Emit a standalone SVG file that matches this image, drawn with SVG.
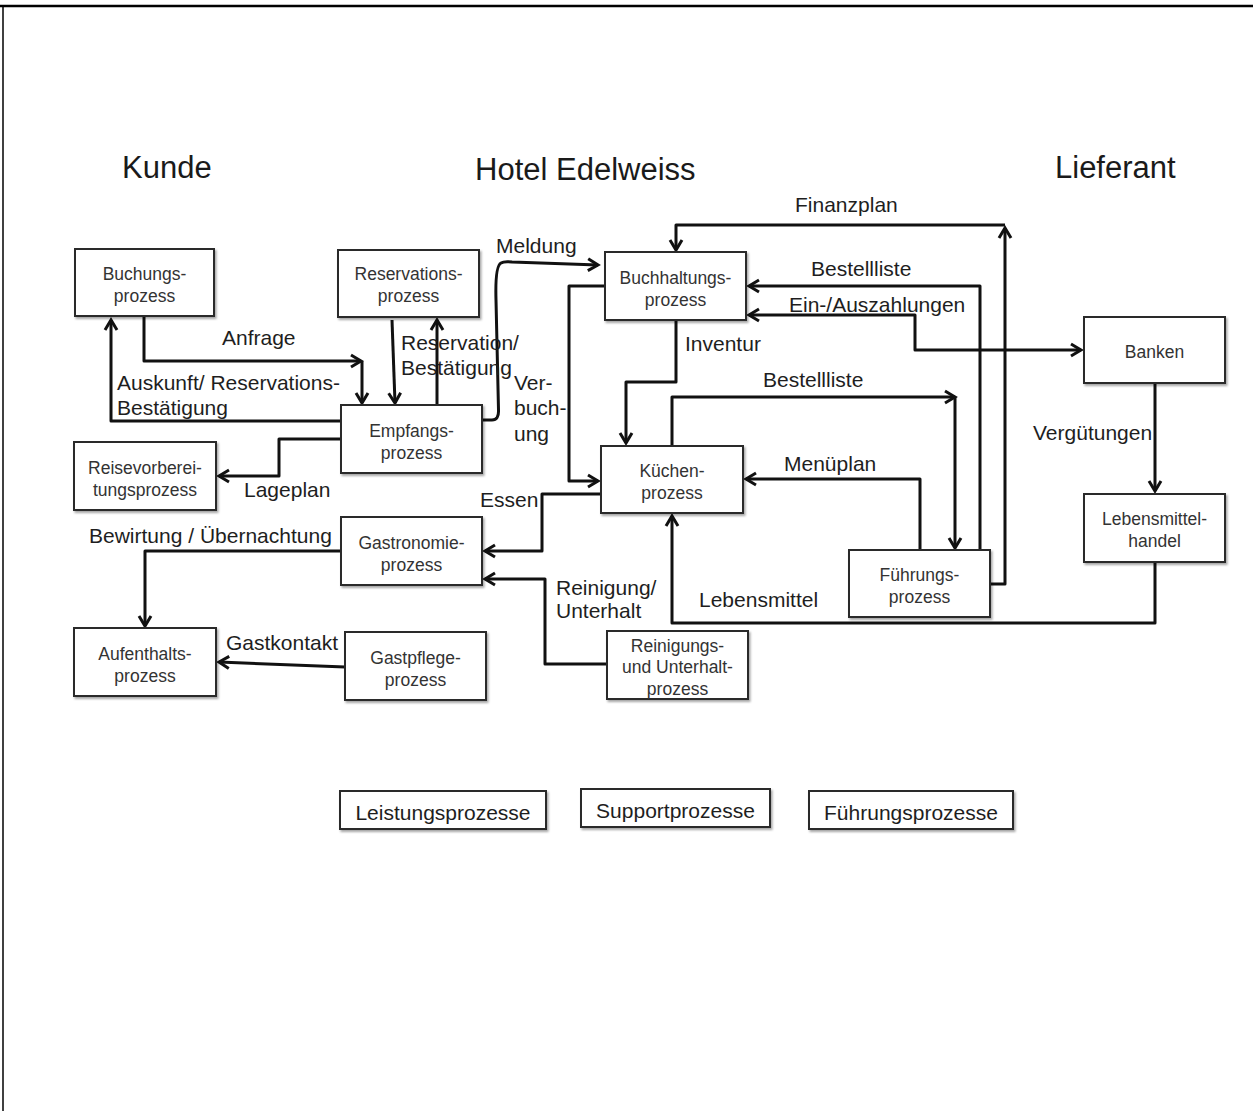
<svg xmlns="http://www.w3.org/2000/svg" width="1253" height="1111" viewBox="0 0 1253 1111">
<style>
  .box { fill: #ffffff; stroke: #2a2a2a; stroke-width: 2; filter: url(#sh); }
  .nt { font-family: "Liberation Sans", Arial, sans-serif; font-size: 17.5px; fill: #333333; text-anchor: middle; }
  .lbl { font-family: "Liberation Sans", Arial, sans-serif; font-size: 21px; fill: #1e1e1e; }
  .lg { font-family: "Liberation Sans", Arial, sans-serif; font-size: 21px; fill: #1e1e1e; text-anchor: middle; }
  .title { font-family: "Liberation Sans", Arial, sans-serif; font-size: 31px; fill: #1a1a1a; }
  .c { fill: none; stroke: #111111; stroke-width: 3; stroke-linejoin: round; marker-end: url(#ah); }
</style>
<defs>
  <filter id="sh" x="-10%" y="-10%" width="120%" height="130%">
    <feDropShadow dx="1.5" dy="2" stdDeviation="1.2" flood-color="#000000" flood-opacity="0.35"/>
  </filter>
  <marker id="ah" markerUnits="userSpaceOnUse" viewBox="-3 -9 16 18" refX="10" refY="0" markerWidth="16" markerHeight="18" orient="auto-start-reverse">
    <path d="M0,-6 L10,0 L0,6" fill="none" stroke="#111111" stroke-width="3" stroke-linejoin="miter"/>
  </marker>
</defs>
<rect x="0" y="0" width="1253" height="1111" fill="#ffffff"/>
<g id="frame">
  <line x1="0" y1="6" x2="1253" y2="6" stroke="#000" stroke-width="2.5"/>
  <line x1="3" y1="5" x2="3" y2="1111" stroke="#000" stroke-width="1.5"/>
</g>
<g id="titles">
  <text class="title" x="122" y="178">Kunde</text>
  <text class="title" x="475" y="180">Hotel Edelweiss</text>
  <text class="title" x="1055" y="178">Lieferant</text>
</g>
<g id="connectors">
  <path class="c" d="M144,317 V361 H361"/>
  <path class="c" d="M362,361 V403"/>
  <path class="c" d="M342,421 H111 V320"/>
  <path class="c" d="M392,320 L395,403"/>
  <path class="c" d="M437,405 V320"/>
  <path class="c" d="M483,420 H492 Q499,420 498.5,410 L496,300 Q495,266 501,263 Q504,261 512,262 L598,265"/>
  <path class="c" d="M341,439 H279 V476 H219"/>
  <path class="c" d="M676,320 V382 H626 V443"/>
  <path class="c" d="M605,286 H569 V481 H598"/>
  <path class="c" d="M601,494 H542 V551 H485"/>
  <path class="c" d="M607,664 H545 V579 H485"/>
  <path class="c" d="M341,551 H145 V626"/>
  <path class="c" d="M345,667 L219,662"/>
  <path class="c" d="M990,584 H1005 V228"/>
  <path class="c" d="M1005,225 H676 V250"/>
  <path class="c" d="M980,550 V286 H749"/>
  <path class="c" d="M749,315 H915 V350 H1081" style="marker-start:url(#ah)"/>
  <path class="c" d="M672,446 V397 H955"/>
  <path class="c" d="M955,397 V548"/>
  <path class="c" d="M920,550 V479 H746"/>
  <path class="c" d="M1155,383 V491"/>
  <path class="c" d="M1155,562 V623 H672 V516"/>
</g>
<g id="labels">
  <text class="lbl" x="222" y="345">Anfrage</text>
  <text class="lbl" x="117" y="390">Auskunft/ Reservations-</text>
  <text class="lbl" x="117" y="415">Bestätigung</text>
  <text class="lbl" x="401" y="350">Reservation/</text>
  <text class="lbl" x="401" y="375">Bestätigung</text>
  <text class="lbl" x="514" y="390">Ver-</text>
  <text class="lbl" x="514" y="415">buch-</text>
  <text class="lbl" x="514" y="441">ung</text>
  <text class="lbl" x="496" y="253">Meldung</text>
  <text class="lbl" x="244" y="497">Lageplan</text>
  <text class="lbl" x="480" y="507">Essen</text>
  <text class="lbl" x="89" y="543">Bewirtung / Übernachtung</text>
  <text class="lbl" x="556" y="595">Reinigung/</text>
  <text class="lbl" x="556" y="618">Unterhalt</text>
  <text class="lbl" x="226" y="650">Gastkontakt</text>
  <text class="lbl" x="795" y="212">Finanzplan</text>
  <text class="lbl" x="811" y="276">Bestellliste</text>
  <text class="lbl" x="789" y="312">Ein-/Auszahlungen</text>
  <text class="lbl" x="685" y="351">Inventur</text>
  <text class="lbl" x="763" y="387">Bestellliste</text>
  <text class="lbl" x="784" y="471">Menüplan</text>
  <text class="lbl" x="1033" y="440">Vergütungen</text>
  <text class="lbl" x="699" y="607">Lebensmittel</text>
</g>
<g id="n-buchungs">
  <rect class="box" x="75" y="249" width="139" height="67"/>
  <text class="nt" x="144.5" y="280">Buchungs-</text>
  <text class="nt" x="144.5" y="302">prozess</text>
</g>
<g id="n-reservations">
  <rect class="box" x="338" y="250" width="141" height="67"/>
  <text class="nt" x="408.5" y="280">Reservations-</text>
  <text class="nt" x="408.5" y="302">prozess</text>
</g>
<g id="n-empfangs">
  <rect class="box" x="341" y="405" width="141" height="68"/>
  <text class="nt" x="411.5" y="437">Empfangs-</text>
  <text class="nt" x="411.5" y="459">prozess</text>
</g>
<g id="n-reisevorbereitung">
  <rect class="box" x="74" y="442" width="142" height="68"/>
  <text class="nt" x="145" y="474">Reisevorberei-</text>
  <text class="nt" x="145" y="496">tungsprozess</text>
</g>
<g id="n-gastronomie">
  <rect class="box" x="341" y="517" width="141" height="68"/>
  <text class="nt" x="411.5" y="549">Gastronomie-</text>
  <text class="nt" x="411.5" y="571">prozess</text>
</g>
<g id="n-aufenthalts">
  <rect class="box" x="74" y="628" width="142" height="68"/>
  <text class="nt" x="145" y="660">Aufenthalts-</text>
  <text class="nt" x="145" y="682">prozess</text>
</g>
<g id="n-gastpflege">
  <rect class="box" x="345" y="632" width="141" height="68"/>
  <text class="nt" x="415.5" y="664">Gastpflege-</text>
  <text class="nt" x="415.5" y="686">prozess</text>
</g>
<g id="n-reinigungs">
  <rect class="box" x="607" y="631" width="141" height="68"/>
  <text class="nt" x="677.5" y="652">Reinigungs-</text>
  <text class="nt" x="677.5" y="673">und Unterhalt-</text>
  <text class="nt" x="677.5" y="695">prozess</text>
</g>
<g id="n-buchhaltungs">
  <rect class="box" x="605" y="252" width="141" height="68"/>
  <text class="nt" x="675.5" y="284">Buchhaltungs-</text>
  <text class="nt" x="675.5" y="306">prozess</text>
</g>
<g id="n-kuechen">
  <rect class="box" x="601" y="446" width="142" height="67"/>
  <text class="nt" x="672" y="477">Küchen-</text>
  <text class="nt" x="672" y="499">prozess</text>
</g>
<g id="n-fuehrungs">
  <rect class="box" x="849" y="550" width="141" height="67"/>
  <text class="nt" x="919.5" y="581">Führungs-</text>
  <text class="nt" x="919.5" y="603">prozess</text>
</g>
<g id="n-banken">
  <rect class="box" x="1084" y="317" width="141" height="66"/>
  <text class="nt" x="1154.5" y="358">Banken</text>
</g>
<g id="n-lebensmittelhandel">
  <rect class="box" x="1084" y="494" width="141" height="68"/>
  <text class="nt" x="1154.5" y="525">Lebensmittel-</text>
  <text class="nt" x="1154.5" y="547">handel</text>
</g>
<g id="legend-leistung">
  <rect class="box" x="340" y="791" width="206" height="38"/>
  <text class="lg" x="443" y="820">Leistungsprozesse</text>
</g>
<g id="legend-support">
  <rect class="box" x="581" y="789" width="189" height="38"/>
  <text class="lg" x="675.5" y="818">Supportprozesse</text>
</g>
<g id="legend-fuehrung">
  <rect class="box" x="809" y="791" width="204" height="38"/>
  <text class="lg" x="911" y="820">Führungsprozesse</text>
</g>
</svg>
